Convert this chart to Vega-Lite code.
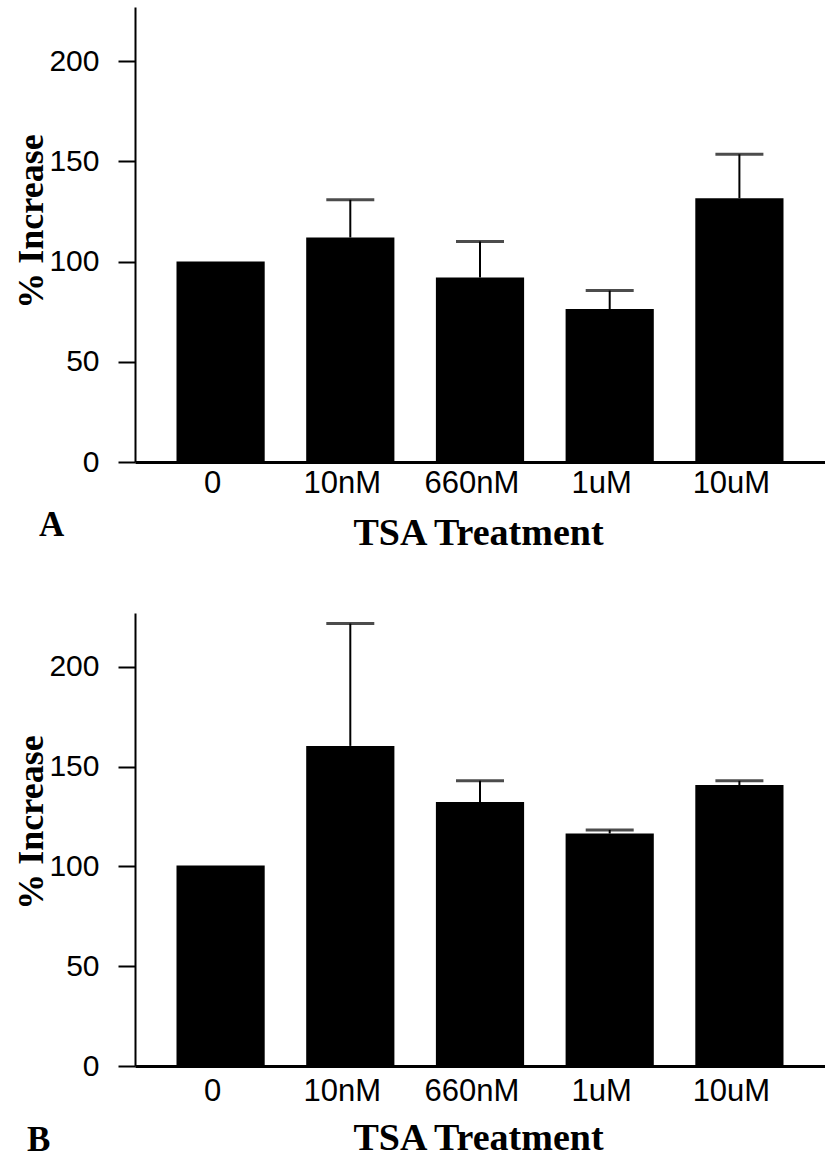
{
  "$schema": "https://vega.github.io/schema/vega-lite/v6.json",
  "background": "white",
  "padding": {"left": 13, "top": 7, "right": 0, "bottom": 0},
  "bounds": "flush",
  "spacing": 151,
  "datasets": {
    "A": [
      {"treatment": "0", "value": 100, "upper": null},
      {"treatment": "10nM", "value": 112, "upper": 130.8},
      {"treatment": "660nM", "value": 92, "upper": 110},
      {"treatment": "1uM", "value": 76.3, "upper": 85.5},
      {"treatment": "10uM", "value": 131.6, "upper": 153.5}
    ],
    "B": [
      {"treatment": "0", "value": 100.5, "upper": null},
      {"treatment": "10nM", "value": 160.4, "upper": 221.7},
      {"treatment": "660nM", "value": 132.3, "upper": 142.9},
      {"treatment": "1uM", "value": 116.5, "upper": 118.3},
      {"treatment": "10uM", "value": 140.8, "upper": 142.9}
    ]
  },
  "config": {
    "view": {"stroke": null},
    "axis": {
      "grid": false,
      "domainColor": "black",
      "tickColor": "black",
      "labelColor": "black",
      "titleColor": "black",
      "labelFont": "Liberation Sans",
      "titleFont": "Liberation Serif",
      "titleFontWeight": "bold"
    }
  },
  "vconcat": [
    {
      "width": 690,
      "height": 455,
      "data": {"name": "A"},
      "title": {"text": "A", "orient": "bottom", "anchor": "start", "frame": "group", "dx": -96, "offset": -44, "font": "Liberation Serif", "fontSize": 35, "fontWeight": "bold", "color": "black"},
      "encoding": {
        "x": {
          "field": "treatment", "type": "nominal",
          "sort": ["0", "10nM", "660nM", "1uM", "10uM"],
          "scale": {"paddingInner": 0.32, "paddingOuter": 0.32},
          "axis": {"title": "TSA Treatment", "labelAngle": 0, "ticks": false, "domainWidth": 3, "labelFontSize": 31, "labelPadding": 6, "labelOffset": -8, "titleFontSize": 38, "titleX": 343, "titleY": 82, "titleBaseline": "alphabetic", "titleAlign": "center"}
        }
      },
      "layer": [
        {
          "mark": {"type": "bar", "color": "black"},
          "encoding": {
            "y": {"field": "value", "type": "quantitative", "scale": {"domain": [0, 227], "nice": false},
              "axis": {"title": "% Increase", "values": [0, 50, 100, 150, 200], "tickSize": 17, "tickWidth": 2, "domainWidth": 2, "labelFontSize": 30, "labelPadding": 19, "titleFontSize": 36, "titleX": -93, "titleY": 214, "titleAngle": -90, "titleAlign": "center", "titleBaseline": "alphabetic"}}
          }
        },
        {
          "transform": [{"filter": "datum.upper != null"}],
          "mark": {"type": "rule", "color": "black", "strokeWidth": 2},
          "encoding": {"y": {"field": "value", "type": "quantitative",
              "axis": {"title": "% Increase", "values": [0, 50, 100, 150, 200], "tickSize": 17, "tickWidth": 2, "domainWidth": 2, "labelFontSize": 30, "labelPadding": 19, "titleFontSize": 36, "titleX": -93, "titleY": 214, "titleAngle": -90, "titleAlign": "center", "titleBaseline": "alphabetic"}},
            "y2": {"field": "upper"}}
        },
        {
          "transform": [{"filter": "datum.upper != null"}],
          "mark": {"type": "tick", "color": "black", "thickness": 3, "size": 48},
          "encoding": {"y": {"field": "upper", "type": "quantitative",
              "axis": {"title": "% Increase", "values": [0, 50, 100, 150, 200], "tickSize": 17, "tickWidth": 2, "domainWidth": 2, "labelFontSize": 30, "labelPadding": 19, "titleFontSize": 36, "titleX": -93, "titleY": 214, "titleAngle": -90, "titleAlign": "center", "titleBaseline": "alphabetic"}}}
        }
      ]
    },
    {
      "width": 690,
      "height": 453,
      "data": {"name": "B"},
      "title": {"text": "B", "orient": "bottom", "anchor": "start", "frame": "group", "dx": -108, "offset": -34, "font": "Liberation Serif", "fontSize": 35, "fontWeight": "bold", "color": "black"},
      "encoding": {
        "x": {
          "field": "treatment", "type": "nominal",
          "sort": ["0", "10nM", "660nM", "1uM", "10uM"],
          "scale": {"paddingInner": 0.32, "paddingOuter": 0.32},
          "axis": {"title": "TSA Treatment", "labelAngle": 0, "ticks": false, "domainWidth": 3, "labelFontSize": 31, "labelPadding": 10, "labelOffset": -8, "titleFontSize": 38, "titleX": 343, "titleY": 83, "titleBaseline": "alphabetic", "titleAlign": "center"}
        }
      },
      "layer": [
        {
          "mark": {"type": "bar", "color": "black"},
          "encoding": {
            "y": {"field": "value", "type": "quantitative", "scale": {"domain": [0, 227], "nice": false},
              "axis": {"title": "% Increase", "values": [0, 50, 100, 150, 200], "tickSize": 17, "tickWidth": 2, "domainWidth": 2, "labelFontSize": 30, "labelPadding": 19, "titleFontSize": 36, "titleX": -93, "titleY": 209, "titleAngle": -90, "titleAlign": "center", "titleBaseline": "alphabetic"}}
          }
        },
        {
          "transform": [{"filter": "datum.upper != null"}],
          "mark": {"type": "rule", "color": "black", "strokeWidth": 2},
          "encoding": {"y": {"field": "value", "type": "quantitative",
              "axis": {"title": "% Increase", "values": [0, 50, 100, 150, 200], "tickSize": 17, "tickWidth": 2, "domainWidth": 2, "labelFontSize": 30, "labelPadding": 19, "titleFontSize": 36, "titleX": -93, "titleY": 209, "titleAngle": -90, "titleAlign": "center", "titleBaseline": "alphabetic"}},
            "y2": {"field": "upper"}}
        },
        {
          "transform": [{"filter": "datum.upper != null"}],
          "mark": {"type": "tick", "color": "black", "thickness": 3, "size": 48},
          "encoding": {"y": {"field": "upper", "type": "quantitative",
              "axis": {"title": "% Increase", "values": [0, 50, 100, 150, 200], "tickSize": 17, "tickWidth": 2, "domainWidth": 2, "labelFontSize": 30, "labelPadding": 19, "titleFontSize": 36, "titleX": -93, "titleY": 209, "titleAngle": -90, "titleAlign": "center", "titleBaseline": "alphabetic"}}}
        }
      ]
    }
  ]
}
